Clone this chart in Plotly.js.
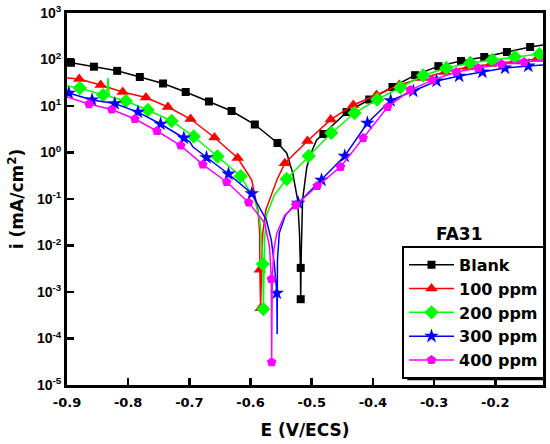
<!DOCTYPE html>
<html>
<head>
<meta charset="utf-8">
<script src="https://cdn.plot.ly/plotly-3.0.1.min.js"></script>
<style>html,body{margin:0;padding:0;background:#fff;}#chart{width:550px;height:444px;}</style>
</head>
<body>
<div id="chart"></div>
<script>
// ---- data (E in V/ECS, i in mA/cm2) ----
const seriesNames = ["Blank", "100 ppm", "200 ppm", "300 ppm", "400 ppm"];
const seriesColors = ["#000000", "#FF0000", "#00FF00", "#0000FF", "#FF00FF"];
const seriesSymbols = ["square", "triangle-up", "diamond", "star", "pentagon"];
const seriesSizes = [8, 11, 11, 11, 10];

// Blank
const blankE = [-0.9, -0.8935, -0.856, -0.818, -0.781, -0.743, -0.706, -0.668, -0.631, -0.593, -0.556, -0.541, -0.531, -0.523, -0.520, -0.5185, -0.518, -0.5175, -0.517, -0.515, -0.508, -0.499, -0.492, -0.481, -0.443, -0.406, -0.368, -0.331, -0.293, -0.256, -0.218, -0.181, -0.143, -0.122];
const blankI = [88, 85, 70, 57, 42, 30.5, 20, 12.5, 7.8, 4.0, 1.6, 0.98, 0.36, 0.095, 0.0186, 0.0033, 0.0007, 0.0033, 0.008, 0.095, 0.49, 1.13, 1.86, 2.5, 7.4, 13.8, 25.6, 46, 72, 93, 113, 145, 186, 205];
const blankMarkE = [-0.8935, -0.856, -0.818, -0.781, -0.743, -0.706, -0.668, -0.631, -0.593, -0.556, -0.518, -0.518, -0.481, -0.443, -0.406, -0.368, -0.331, -0.293, -0.256, -0.218, -0.181, -0.143];
const blankMarkI = [85, 70, 57, 42, 30.5, 20, 12.5, 7.8, 4.0, 1.6, 0.0033, 0.0007, 2.5, 7.4, 13.8, 25.6, 46, 72, 93, 113, 145, 186];

// 100 ppm
const p100E = [-0.9, -0.880, -0.845, -0.809, -0.771, -0.735, -0.698, -0.659, -0.621, -0.598, -0.588, -0.585, -0.5848, -0.5835, -0.582, -0.580, -0.575, -0.569, -0.557, -0.544, -0.507, -0.469, -0.432, -0.394, -0.357, -0.319, -0.282, -0.244, -0.207, -0.169, -0.132, -0.122];
const p100I = [40, 38, 28.3, 20, 15.2, 9.5, 5.25, 2.1, 0.76, 0.256, 0.058, 0.0186, 0.003, 0.00045, 0.003, 0.0186, 0.058, 0.095, 0.256, 0.59, 1.77, 5.1, 10.5, 17.2, 28.3, 40, 54, 69, 80, 90.6, 102, 108];
const p100MarkE = [-0.880, -0.845, -0.809, -0.771, -0.735, -0.698, -0.659, -0.621, -0.5848, -0.5835, -0.544, -0.507, -0.469, -0.432, -0.394, -0.357, -0.319, -0.282, -0.244, -0.207, -0.169, -0.132];
const p100MarkI = [38, 28.3, 20, 15.2, 9.5, 5.25, 2.1, 0.76, 0.003, 0.00045, 0.59, 1.77, 5.1, 10.5, 17.2, 28.3, 40, 54, 69, 80, 90.6, 102];

// 200 ppm
const p200E = [-0.9, -0.879, -0.841, -0.835, -0.833, -0.831, -0.804, -0.768, -0.729, -0.693, -0.654, -0.616, -0.593, -0.585, -0.582, -0.580, -0.579, -0.578, -0.577, -0.574, -0.561, -0.541, -0.505, -0.468, -0.430, -0.393, -0.355, -0.318, -0.280, -0.241, -0.205, -0.168, -0.128, -0.122];
const p200I = [26.9, 24.4, 17.2, 16.5, 40, 16, 12.8, 8.2, 4.76, 2.21, 0.82, 0.31, 0.095, 0.035, 0.0131, 0.004, 0.00043, 0.004, 0.0131, 0.045, 0.122, 0.269, 0.84, 2.63, 7.07, 13.8, 25, 45.3, 65.7, 84, 97.5, 113, 131, 135];
const p200MarkE = [-0.879, -0.841, -0.804, -0.768, -0.729, -0.693, -0.654, -0.616, -0.580, -0.579, -0.541, -0.505, -0.468, -0.430, -0.393, -0.355, -0.318, -0.280, -0.241, -0.205, -0.168, -0.128];
const p200MarkI = [24.4, 17.2, 12.8, 8.2, 4.76, 2.21, 0.82, 0.31, 0.004, 0.00043, 0.269, 0.84, 2.63, 7.07, 13.8, 25, 45.3, 65.7, 84, 97.5, 113, 131];

// 300 ppm
const p300E = [-0.9, -0.897, -0.859, -0.822, -0.784, -0.747, -0.709, -0.699, -0.694, -0.672, -0.636, -0.598, -0.574, -0.566, -0.561, -0.557, -0.5565, -0.556, -0.553, -0.543, -0.531, -0.522, -0.484, -0.446, -0.409, -0.371, -0.334, -0.296, -0.259, -0.221, -0.184, -0.146, -0.122];
const p300I = [20, 19, 13.5, 11.3, 7.4, 4.1, 2.05, 1.68, 1.31, 0.78, 0.345, 0.131, 0.035, 0.0131, 0.0038, 0.00095, 0.000125, 0.0049, 0.0186, 0.045, 0.067, 0.082, 0.256, 0.84, 4.3, 13.1, 21, 34.5, 44, 54, 65.7, 72.5, 76];
const p300MarkE = [-0.897, -0.859, -0.822, -0.784, -0.747, -0.709, -0.672, -0.636, -0.598, -0.557, -0.522, -0.484, -0.446, -0.409, -0.371, -0.334, -0.296, -0.259, -0.221, -0.184, -0.146];
const p300MarkI = [19, 13.5, 11.3, 7.4, 4.1, 2.05, 0.78, 0.345, 0.131, 0.00095, 0.082, 0.256, 0.84, 4.3, 13.1, 21, 34.5, 44, 54, 65.7, 72.5];

// 400 ppm
const p400E = [-0.9, -0.864, -0.827, -0.789, -0.753, -0.714, -0.678, -0.639, -0.603, -0.577, -0.569, -0.566, -0.5655, -0.5645, -0.562, -0.557, -0.544, -0.526, -0.491, -0.453, -0.416, -0.376, -0.339, -0.303, -0.264, -0.228, -0.190, -0.153, -0.122];
const p400I = [15.6, 11, 8.4, 5.25, 2.9, 1.41, 0.55, 0.232, 0.084, 0.0305, 0.0093, 0.0019, 3.1e-5, 0.0019, 0.008, 0.0186, 0.045, 0.074, 0.19, 0.49, 2.05, 9.5, 22, 36, 54, 65.7, 80, 88, 97.5];
const p400MarkE = [-0.864, -0.827, -0.789, -0.753, -0.714, -0.678, -0.639, -0.603, -0.566, -0.5655, -0.526, -0.491, -0.453, -0.416, -0.376, -0.339, -0.303, -0.264, -0.228, -0.190, -0.153];
const p400MarkI = [11, 8.4, 5.25, 2.9, 1.41, 0.55, 0.232, 0.084, 0.0019, 3.1e-5, 0.074, 0.19, 0.49, 2.05, 9.5, 22, 36, 54, 65.7, 80, 88];

const xTickVals = [-0.9, -0.8, -0.7, -0.6, -0.5, -0.4, -0.3, -0.2];
const xTickText = ["-0.9", "-0.8", "-0.7", "-0.6", "-0.5", "-0.4", "-0.3", "-0.2"];
const yTickVals = [1e-5, 1e-4, 1e-3, 1e-2, 1e-1, 1e0, 1e1, 1e2, 1e3];
const yTickText = ["10<sup>-5</sup>", "10<sup>-4</sup>", "10<sup>-3</sup>", "10<sup>-2</sup>", "10<sup>-1</sup>", "10<sup>0</sup>", "10<sup>1</sup>", "10<sup>2</sup>", "10<sup>3</sup>"];

const lines = [[blankE, blankI], [p100E, p100I], [p200E, p200I], [p300E, p300I], [p400E, p400I]];
const marks = [[blankMarkE, blankMarkI], [p100MarkE, p100MarkI], [p200MarkE, p200MarkI], [p300MarkE, p300MarkI], [p400MarkE, p400MarkI]];

const ARIAL = "Arial, 'Liberation Sans', sans-serif";
const WIDE = "'DejaVu Sans', Verdana, sans-serif";
const traces = [];
for (let k = 0; k < seriesNames.length; k++) {
  traces.push({x: lines[k][0], y: lines[k][1], mode: "lines", type: "scatter",
    line: {color: seriesColors[k], width: 1.5}, showlegend: false, hoverinfo: "skip"});
  traces.push({x: marks[k][0], y: marks[k][1], mode: "markers", type: "scatter",
    marker: {color: seriesColors[k], symbol: seriesSymbols[k], size: seriesSizes[k], line: {width: 0}},
    showlegend: false});
}
for (let k = 0; k < seriesNames.length; k++) {
  traces.push({x: [null], y: [null], mode: "lines+markers", type: "scatter", name: seriesNames[k],
    line: {color: seriesColors[k], width: 1.5},
    marker: {color: seriesColors[k], symbol: seriesSymbols[k], size: seriesSizes[k], line: {width: 0}}});
}

const axisCommon = {
  showgrid: false, zeroline: false, showline: true, linecolor: "#000", linewidth: 3, mirror: true,
  ticks: "inside", ticklen: 7, tickwidth: 2.5, tickcolor: "#000"
};

const layout = {
  width: 550, height: 444,
  margin: {l: 67, r: 6, t: 13, b: 59},
  paper_bgcolor: "#fff", plot_bgcolor: "#fff",
  font: {family: ARIAL, color: "#000"},
  xaxis: Object.assign({}, axisCommon, {
    range: [-0.9, -0.122], tickmode: "array", tickvals: xTickVals, ticktext: xTickText,
    ticklabelstandoff: 3,
    tickfont: {family: WIDE, size: 13, color: "#000", weight: "bold"},
    title: {text: "E (V/ECS)", font: {family: WIDE, size: 17, weight: "bold", color: "#000"}, standoff: 16}
  }),
  yaxis: Object.assign({}, axisCommon, {
    type: "log", range: [-5, 3], tickmode: "array", tickvals: yTickVals, ticktext: yTickText,
    tickfont: {family: ARIAL, size: 14, color: "#000", weight: "bold"},
    title: {text: "i (mA/cm<sup>2</sup>)", font: {family: WIDE, size: 17, weight: "bold", color: "#000"}, standoff: 9}
  }),
  legend: {
    x: 0.7023, y: 0.374, xanchor: "left", yanchor: "top",
    bgcolor: "#fff", bordercolor: "#000", borderwidth: 2,
    font: {family: WIDE, size: 16, weight: "bold", color: "#000"},
    itemwidth: 45, tracegroupgap: 0, traceorder: "normal"
  },
  shapes: [{
    type: "rect", xref: "paper", yref: "paper", x0: 0.715, x1: 1.002, y0: 0.013, y1: 0.355,
    fillcolor: "#000", line: {width: 0}, layer: "above"
  }],
  annotations: [{
    xref: "paper", yref: "paper", x: 0.876, y: 0.406, text: "FA31", showarrow: false,
    font: {family: WIDE, size: 17, weight: "bold", color: "#000"}
  }]
};

Plotly.newPlot("chart", traces, layout, {displayModeBar: false, staticPlot: true});
</script>
</body>
</html>
